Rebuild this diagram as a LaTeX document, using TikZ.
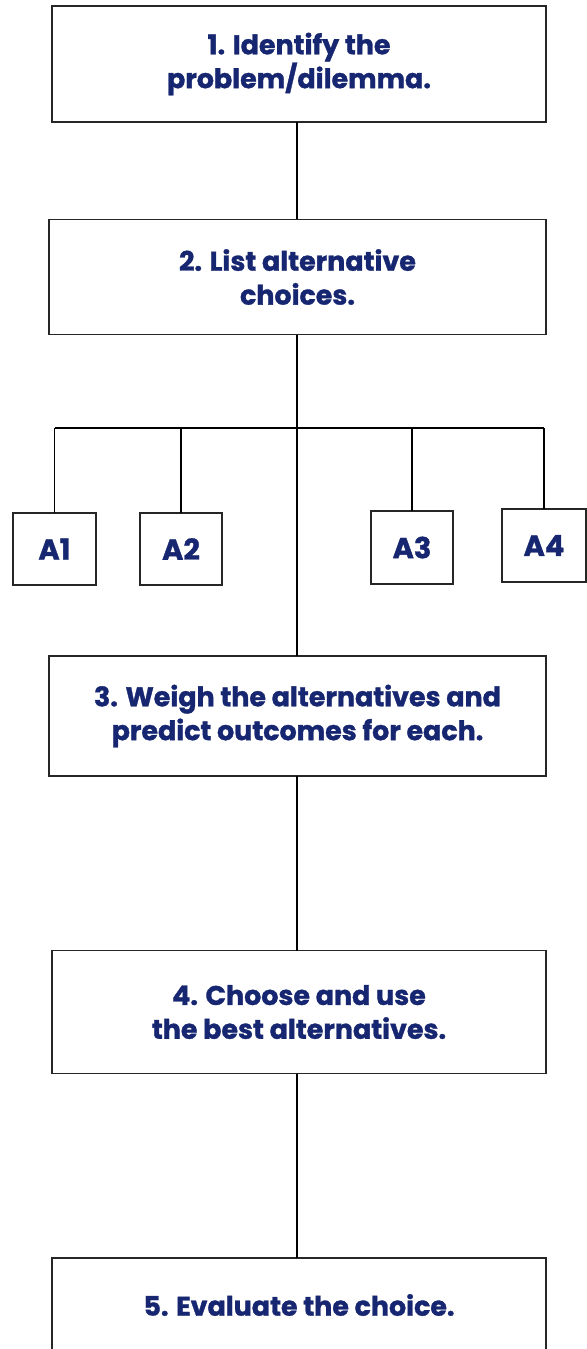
\documentclass[tikz,border=0pt]{standalone}
\usepackage{fontspec}
\setmainfont{Poppins}[BoldFont={* Bold}, BoldFeatures={FakeBold=1.2}]
\definecolor{labelblue}{RGB}{22,38,112}
\begin{document}
\begin{tikzpicture}[x=1bp,y=-1bp,
  every node/.style={inner sep=0pt, outer sep=0pt},
  stepbox/.style={draw=black!85, line width=1.3bp, fill=white,
    text=labelblue, align=center,
    font=\fontsize{27}{34}\selectfont\bfseries},
  altbox/.style={draw=black!85, line width=1.3bp, fill=white,
    text=labelblue, font=\fontsize{29}{30}\selectfont\bfseries},
  link/.style={draw=black, line width=1.2bp}]
\useasboundingbox (0,0) rectangle (587,1349);
\clip (0,0) rectangle (587,1349);

% main step boxes
\node[stepbox, minimum width=494bp, minimum height=116bp] (s1) at (299,64)
  {1. Identify the\\problem/dilemma.};
\node[stepbox, minimum width=497bp, minimum height=115bp] (s2) at (297.5,277)
  {2. List alternative\\choices.};
\node[stepbox, minimum width=497bp, minimum height=120bp] (s3) at (297.5,716)
  {3. Weigh the alternatives and\\predict outcomes for each.};
\node[stepbox, minimum width=494bp, minimum height=123bp] (s4) at (299,1012)
  {4. Choose and use\\the best alternatives.};
\node[stepbox, minimum width=494bp, minimum height=94bp] (s5) at (299,1305)
  {5. Evaluate the choice.};

% alternative boxes
\node[altbox, minimum width=83bp, minimum height=72bp] (a1) at (54.5,549) {A1};
\node[altbox, minimum width=82bp, minimum height=72bp] (a2) at (181,549) {A2};
\node[altbox, minimum width=82bp, minimum height=73bp] (a3) at (412,547.5) {A3};
\node[altbox, minimum width=84bp, minimum height=73bp] (a4) at (544,545.5) {A4};

% spine and branching bar
\coordinate (spine) at (297,0);
\coordinate (bar) at (297,428);

\draw[link] (s1.south -| spine) -- (s2.north -| spine);
\draw[link] (s2.south -| spine) -- (s3.north -| spine);
\draw[link] (s3.south -| spine) -- (s4.north -| spine);
\draw[link] (s4.south -| spine) -- (s5.north -| spine);

\draw[link] (a1.north |- bar) -- (a4.north |- bar);
\draw[link] (a1.north |- bar) -- (a1.north);
\draw[link] (a2.north |- bar) -- (a2.north);
\draw[link] (a3.north |- bar) -- (a3.north);
\draw[link] (a4.north |- bar) -- (a4.north);
\end{tikzpicture}
\end{document}
